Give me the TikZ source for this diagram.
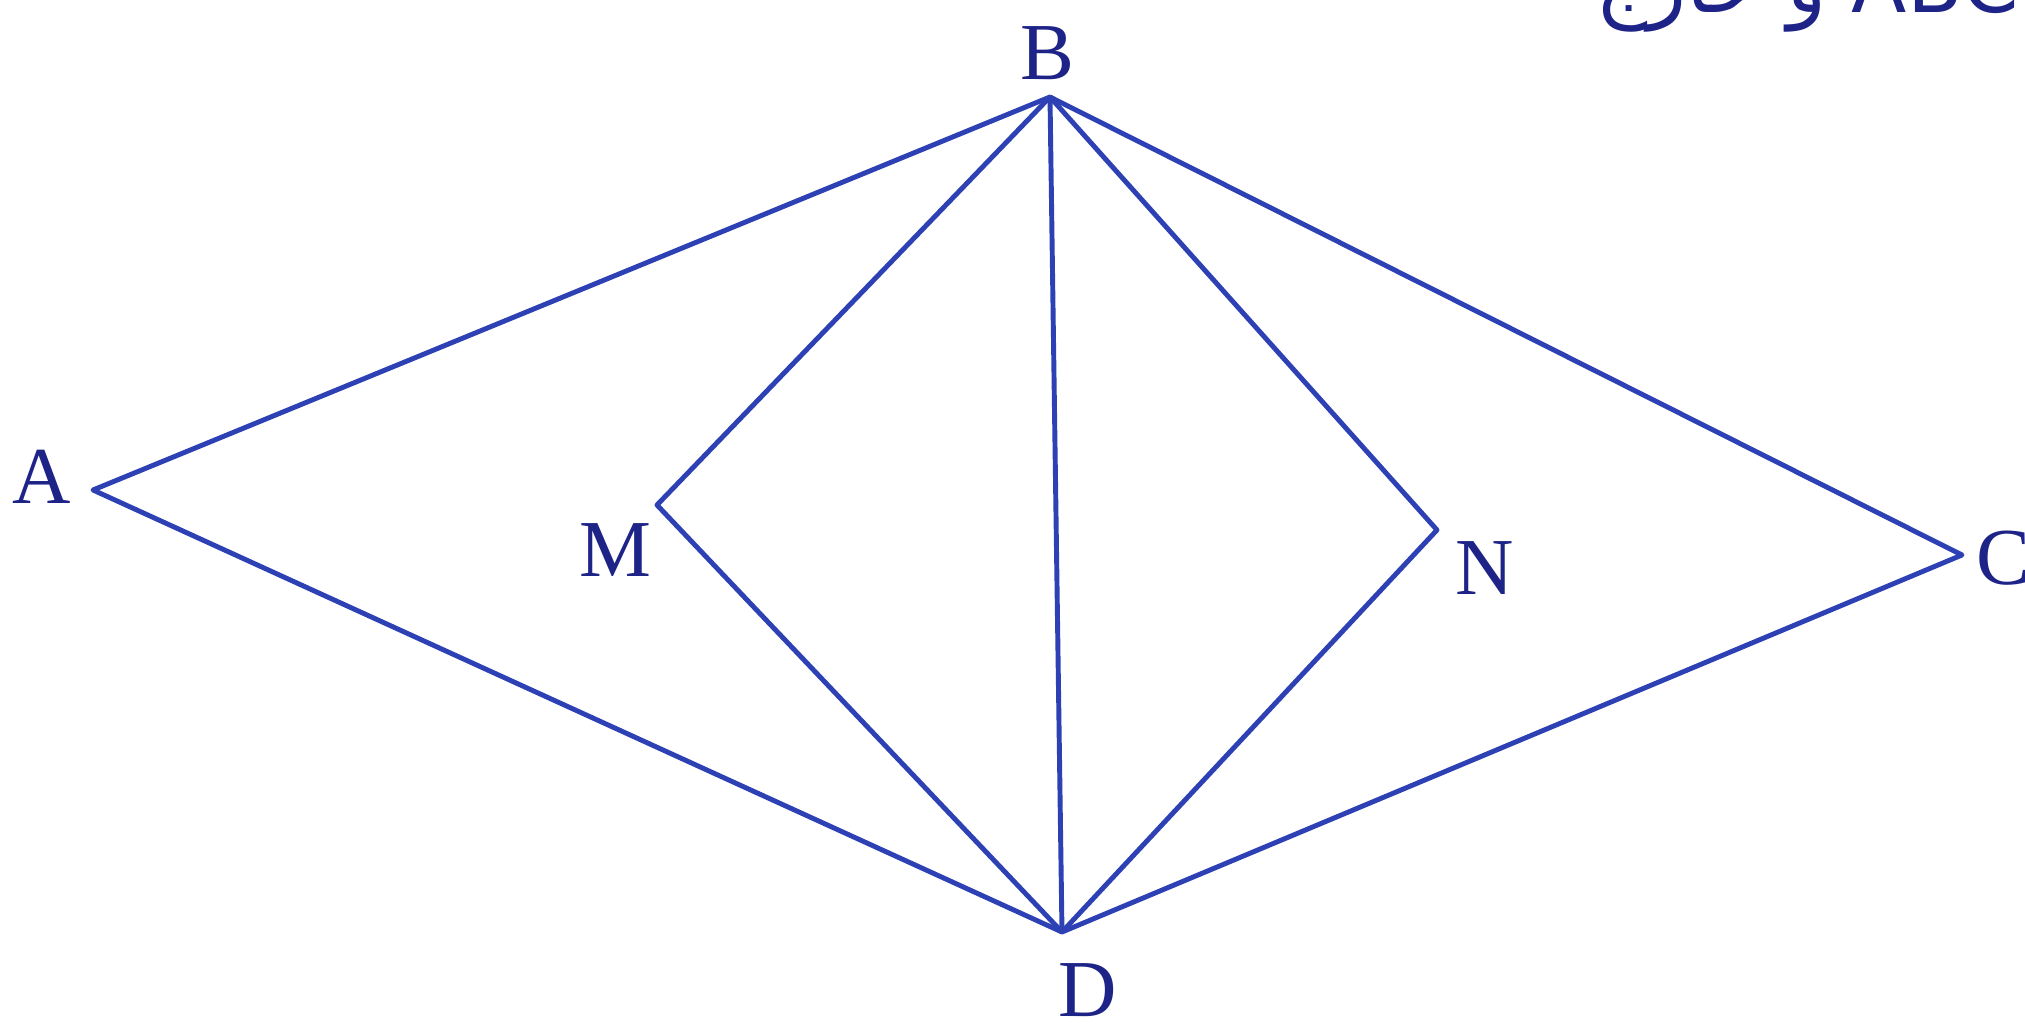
\documentclass[tikz,border=0pt]{standalone}
\usepackage{fontspec}
\setmainfont{Liberation Serif}
\newfontfamily\arabicfont[Script=Arabic]{DejaVu Sans}
\TeXXeTstate=1
\definecolor{lineblue}{RGB}{45,65,180}
\definecolor{textblue}{RGB}{30,35,135}
\begin{document}
\begin{tikzpicture}[
  edge/.style={draw=lineblue, line width=1.4pt, line join=round},
  lbl/.style={text=textblue, font=\fontsize{23}{28}\selectfont, inner sep=0pt}
]
\useasboundingbox (0,0) rectangle (20.25,10.30);
\clip (0,0) rectangle (20.25,10.30);
\fill[white] (0,0) rectangle (20.25,10.30);
% vertices
\coordinate (A) at (0.93,5.40);
\coordinate (B) at (10.50,9.33);
\coordinate (C) at (19.62,4.75);
\coordinate (D) at (10.62,0.98);
\coordinate (M) at (6.57,5.25);
\coordinate (N) at (14.37,5.00);
% edges
\draw[edge] (A) -- (B) -- (C) -- (D) -- cycle;
\draw[edge] (B) -- (D);
\draw[edge] (B) -- (M) -- (D);
\draw[edge] (B) -- (N) -- (D);
% labels
\node[lbl] (lA) at (0.42,5.53) {A};
\node[lbl] (lB) at (10.47,9.77) {B};
\node[lbl, anchor=west] (lC) at (19.76,4.72) {C};
\node[lbl] (lM) at (6.15,4.80) {M};
\node[lbl] (lN) at (14.85,4.62) {N};
\node[lbl] (lD) at (10.88,0.40) {D};
% clipped heading text at top right
\node[lbl, anchor=base west] (head) at (15.95,10.17) {\arabicfont\beginR\beginL ABCD\endL{} و خارج\endR};
\end{tikzpicture}
\end{document}
